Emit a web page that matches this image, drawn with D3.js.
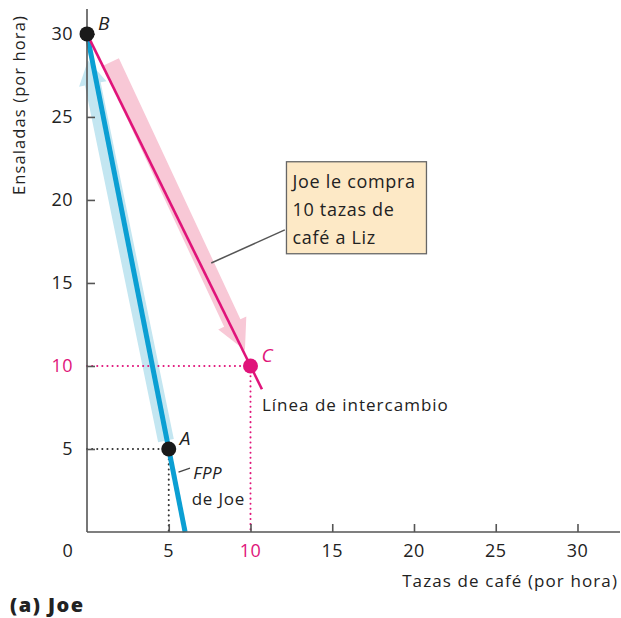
<!DOCTYPE html>
<meta charset="utf-8">
<style>
body { margin: 0; background: #fff; }
svg { display: block; font-family: "Open Sans", "Noto Sans", sans-serif; }
.axis path, .axis line { stroke: #555; stroke-width: 1.6; }
</style>
<svg id="plot" width="621" height="618"></svg>
<script src="https://cdn.jsdelivr.net/npm/d3@7"></script>
<script>

// data
var xTicks = [5, 10, 15, 20, 25, 30];
var yTicks = [5, 10, 15, 20, 25, 30];
var ppf = [[0, 30], [6, 0]];                 // FPP de Joe
var tradeLine = [[0, 30], [10.7, 8.6]];      // Línea de intercambio
var points = [
  {name: "B", x: 0, y: 30, color: "#1a1a1a"},
  {name: "A", x: 5, y: 5, color: "#1a1a1a"},
  {name: "C", x: 10, y: 10, color: "#e0147a"}
];
var blueArrow = [[4.83, 5.5], [0.06, 28.4]];
var pinkArrow = [[1.45, 28.3], [9.66, 10.95]];

var svg = d3.select("svg"),
    margin = {top: 9, left: 87},
    width = 533,
    height = 523;

var x = d3.scaleLinear().domain([0, 32.6]).range([0, width]);
var y = d3.scaleLinear().domain([0, 31.5]).range([height, 0]);

var g = svg.append("g")
    .attr("transform", "translate(" + margin.left + "," + margin.top + ")");

// light arrows
function arrowPath(a, w, headW, headL) {
  var x0 = x(a[0][0]), y0 = y(a[0][1]), x1 = x(a[1][0]), y1 = y(a[1][1]);
  var dx = x1 - x0, dy = y1 - y0, len = Math.sqrt(dx * dx + dy * dy);
  var ux = dx / len, uy = dy / len, nx = -uy, ny = ux;
  var bx = x1 - ux * headL, by = y1 - uy * headL;
  var p = [
    [x0 + nx * w / 2, y0 + ny * w / 2],
    [bx + nx * w / 2, by + ny * w / 2],
    [bx + nx * headW / 2, by + ny * headW / 2],
    [x1, y1],
    [bx - nx * headW / 2, by - ny * headW / 2],
    [bx - nx * w / 2, by - ny * w / 2],
    [x0 - nx * w / 2, y0 - ny * w / 2]
  ];
  return "M" + p.join("L") + "Z";
}

g.append("path").attr("d", arrowPath(blueArrow, 16, 28, 24)).attr("fill", "#c3e6f1");
g.append("path").attr("d", arrowPath(pinkArrow, 18, 31, 30)).attr("fill", "#f8c8d6");

// dotted guides
var dots = [
  {x1: 0, y1: 5, x2: 5, y2: 5, c: "#333"},
  {x1: 5, y1: 5, x2: 5, y2: 0, c: "#333"},
  {x1: 0, y1: 10, x2: 10, y2: 10, c: "#e0147a"},
  {x1: 10, y1: 10, x2: 10, y2: 0, c: "#e0147a"}
];
g.selectAll(".guide").data(dots).enter().append("line")
    .attr("x1", function(d) { return x(d.x1); })
    .attr("y1", function(d) { return y(d.y1); })
    .attr("x2", function(d) { return x(d.x2); })
    .attr("y2", function(d) { return y(d.y2); })
    .attr("stroke", function(d) { return d.c; })
    .attr("stroke-width", 2)
    .attr("stroke-linecap", "round")
    .attr("stroke-dasharray", "0.1 5");

var line = d3.line().x(function(d) { return x(d[0]); }).y(function(d) { return y(d[1]); });

g.append("path").attr("d", line(ppf)).attr("stroke", "#0b9fd3").attr("stroke-width", 5).attr("fill", "none");
g.append("path").attr("d", line(tradeLine)).attr("stroke", "#e0147a").attr("stroke-width", 2.6).attr("fill", "none");

// axes
var xAxis = g.append("g").attr("class", "axis")
    .attr("transform", "translate(0," + height + ")")
    .call(d3.axisTop(x).tickValues(xTicks).tickSize(8).tickFormat(""));
xAxis.select(".domain").attr("d", "M0,0H" + width);

var yAxis = g.append("g").attr("class", "axis")
    .call(d3.axisRight(y).tickValues(yTicks).tickSize(8).tickFormat(""));
yAxis.select(".domain").attr("d", "M0," + height + "V0");

g.selectAll(".xlab").data([0].concat(xTicks)).enter().append("text")
    .attr("x", function(d) { return d === 0 ? x(0) - 19 : x(d); })
    .attr("y", height + 25)
    .attr("text-anchor", "middle")
    .attr("font-size", 18)
    .attr("letter-spacing", 0.5)
    .attr("fill", function(d) { return d === 10 ? "#e0147a" : "#222"; })
    .text(function(d) { return d; });

g.selectAll(".ylab").data(yTicks).enter().append("text")
    .attr("x", -14)
    .attr("y", function(d) { return y(d) + 6; })
    .attr("text-anchor", "end")
    .attr("font-size", 18)
    .attr("letter-spacing", 0.5)
    .attr("fill", function(d) { return d === 10 ? "#e0147a" : "#222"; })
    .text(function(d) { return d; });

// points
g.selectAll(".pt").data(points).enter().append("circle")
    .attr("cx", function(d) { return x(d.x); })
    .attr("cy", function(d) { return y(d.y); })
    .attr("r", 7.5)
    .attr("fill", function(d) { return d.color; });

g.selectAll(".ptl").data(points).enter().append("text")
    .attr("x", function(d) { return x(d.x) + 11; })
    .attr("y", function(d) { return y(d.y) - 4; })
    .attr("font-size", 19)
    .attr("font-style", "italic")
    .attr("fill", function(d) { return d.color === "#1a1a1a" ? "#222" : d.color; })
    .text(function(d) { return d.name; });

// line labels
g.append("text").attr("x", x(10.7)).attr("y", y(7.3)).attr("font-size", 17).attr("letter-spacing", 1)
    .attr("fill", "#222")
    .text("Línea de intercambio");

g.append("line").attr("x1", x(5.6)).attr("y1", y(3.6)).attr("x2", x(6.3)).attr("y2", y(3.85))
    .attr("stroke", "#444").attr("stroke-width", 1.3);
g.append("text").attr("x", x(6.5)).attr("y", y(3.2)).attr("font-size", 17).attr("letter-spacing", 0.5)
    .attr("font-style", "italic").attr("fill", "#222")
    .text("FPP");
g.append("text").attr("x", x(6.4)).attr("y", y(1.6)).attr("font-size", 17).attr("letter-spacing", 0.8)
    .attr("fill", "#222")
    .text("de Joe");

// callout
g.append("line").attr("x1", x(7.6)).attr("y1", y(16.2)).attr("x2", x(12.1)).attr("y2", y(18.2))
    .attr("stroke", "#555").attr("stroke-width", 1.5);
g.append("rect").attr("x", x(12.2)).attr("y", y(22.3)).attr("width", 140).attr("height", 92)
    .attr("fill", "#fde9c6").attr("stroke", "#666").attr("stroke-width", 1.3);
var callout = ["Joe le compra", "10 tazas de", "café a Liz"];
g.selectAll(".co").data(callout).enter().append("text")
    .attr("x", x(12.2) + 6)
    .attr("y", function(d, i) { return y(22.3) + 26 + i * 28; })
    .attr("font-size", 18)
    .attr("letter-spacing", 0.7)
    .attr("fill", "#222")
    .text(function(d) { return d; });

// axis titles
svg.append("text")
    .attr("transform", "translate(25,105) rotate(-90)")
    .attr("text-anchor", "middle")
    .attr("font-size", 16.5)
    .attr("letter-spacing", 1.1)
    .attr("fill", "#222")
    .text("Ensaladas (por hora)");

svg.append("text")
    .attr("x", 618).attr("y", 587)
    .attr("text-anchor", "end")
    .attr("font-size", 17)
    .attr("letter-spacing", 1.1)
    .attr("fill", "#222")
    .text("Tazas de café (por hora)");

svg.append("text")
    .attr("x", 10).attr("y", 612)
    .attr("font-size", 20)
    .attr("font-weight", 800)
    .attr("letter-spacing", 1.5)
    .attr("fill", "#222")
    .text("(a) Joe");

</script>
